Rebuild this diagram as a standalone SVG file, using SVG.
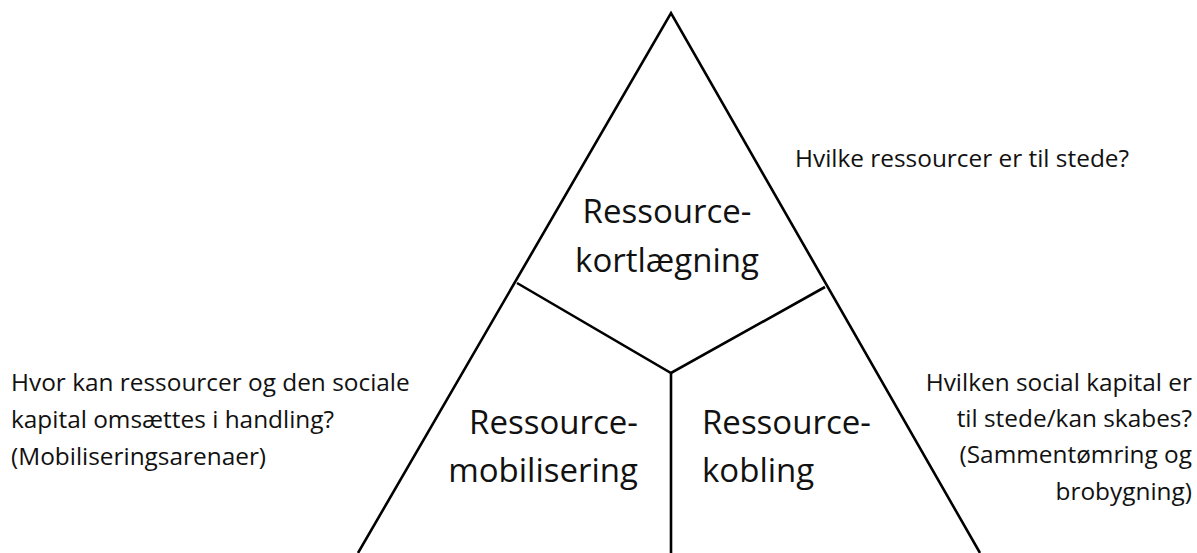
<svg xmlns="http://www.w3.org/2000/svg" width="1197" height="553" viewBox="0 0 1197 553">
  <style>
    .edge { fill: none; stroke: #000; stroke-width: 2.6; stroke-linejoin: miter; }
    .label { font-family: "Open Sans", "Noto Sans", sans-serif; font-size: 33px; fill: #111; }
    .note { font-family: "Open Sans", "Noto Sans", sans-serif; font-size: 24.4px; fill: #111; }
  </style>
  <rect width="1197" height="553" fill="#fff"/>

  <!-- triangle outline and inner dividers -->
  <g id="connectors">
    <polyline class="edge" points="358,553 671,13 980,553"/>
    <polyline class="edge" points="517,283 671,373 825,287"/>
    <line class="edge" x1="671" y1="373" x2="671" y2="553"/>
  </g>

  <g id="kortlaegning">
    <text class="label" text-anchor="middle" x="667" y="223">Ressource-</text>
    <text class="label" text-anchor="middle" x="667" y="272">kortlægning</text>
  </g>

  <g id="mobilisering">
    <text class="label" text-anchor="end" x="638" y="434">Ressource-</text>
    <text class="label" text-anchor="end" x="638" y="482">mobilisering</text>
  </g>

  <g id="kobling">
    <text class="label" x="702" y="434">Ressource-</text>
    <text class="label" x="702" y="482">kobling</text>
  </g>

  <g id="note-top">
    <text class="note" x="795" y="167">Hvilke ressourcer er til stede?</text>
  </g>

  <g id="note-left">
    <text class="note" x="11" y="391">Hvor kan ressourcer og den sociale</text>
    <text class="note" x="11" y="428">kapital omsættes i handling?</text>
    <text class="note" x="11" y="465">(Mobiliseringsarenaer)</text>
  </g>

  <g id="note-right">
    <text class="note" text-anchor="end" x="1192" y="391">Hvilken social kapital er</text>
    <text class="note" text-anchor="end" x="1192" y="427">til stede/kan skabes?</text>
    <text class="note" text-anchor="end" x="1192" y="463">(Sammentømring og</text>
    <text class="note" text-anchor="end" x="1192" y="500">brobygning)</text>
  </g>
</svg>
